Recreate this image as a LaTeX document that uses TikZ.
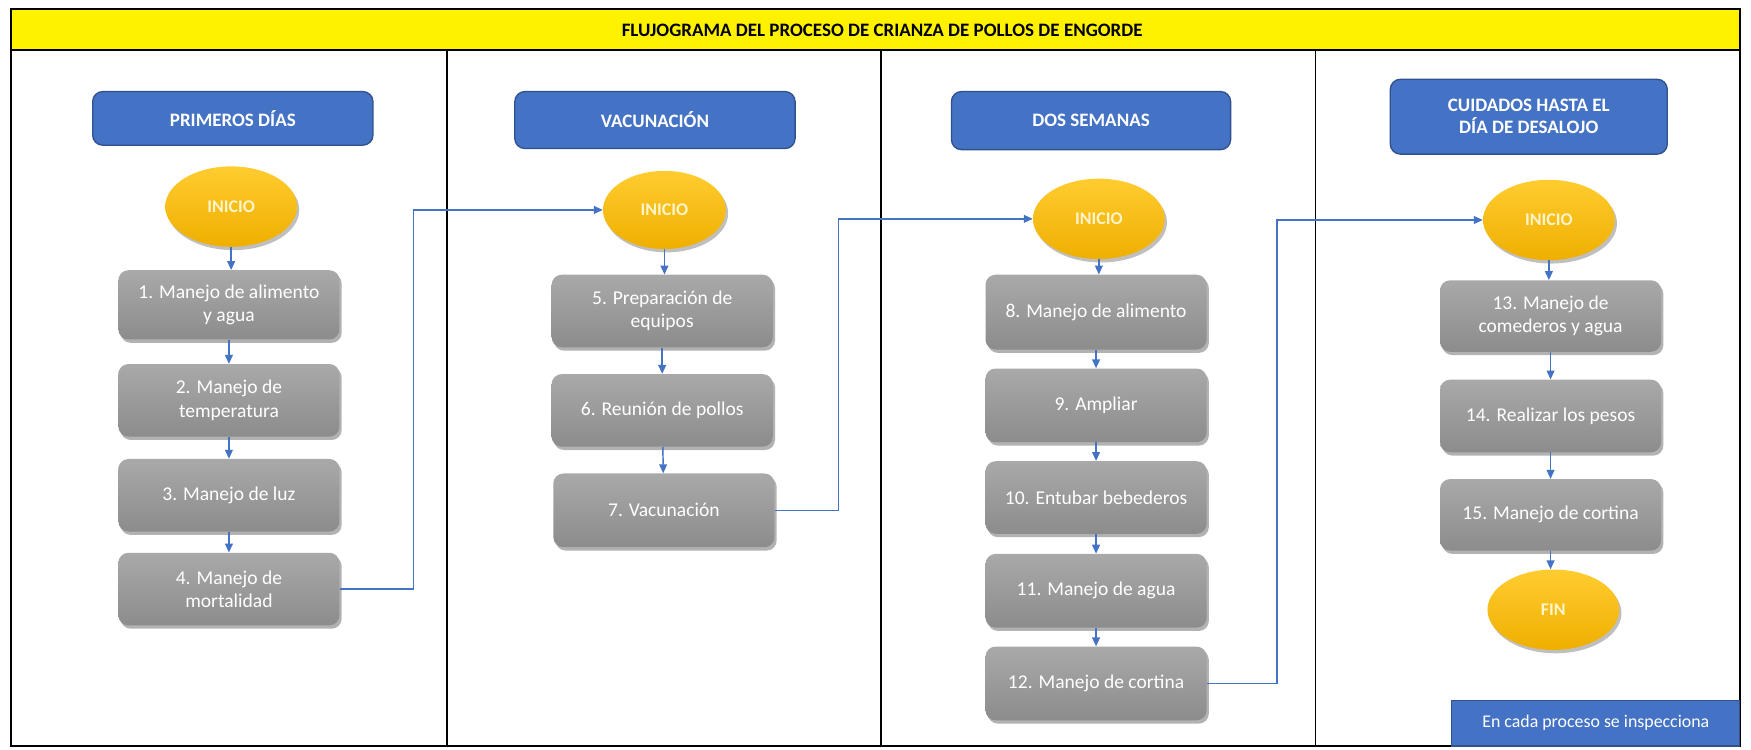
\documentclass[tikz,border=0pt]{standalone}
\usepackage{fontspec}
\setmainfont{Carlito}
\usetikzlibrary{shapes.geometric,arrows.meta,shadows}
\definecolor{hblue}{HTML}{4472C4}
\definecolor{hbord}{HTML}{2F528F}
\definecolor{goldA}{HTML}{FFCC30}
\definecolor{goldB}{HTML}{EFAF00}
\definecolor{goldT}{HTML}{FFF4CC}
\definecolor{grayA}{HTML}{A9A9A9}
\definecolor{grayB}{HTML}{8C8C8C}
\tikzset{
  hdr/.style={draw=hbord, line width=1.2pt, fill=hblue, rounded corners=9pt, text=white,
    font=\bfseries\fontsize{17}{19.5}\selectfont, align=center, inner sep=2pt},
  proc/.style={rounded corners=9pt, top color=grayA, bottom color=grayB, text=white,
    font=\fontsize{17.5}{21}\selectfont, align=center, inner sep=2pt,
    minimum width=198pt, minimum height=64pt,
    drop shadow={shadow xshift=2pt, shadow yshift=-3pt, opacity=.3, fill=black}},
  term/.style={ellipse, top color=goldA, bottom color=goldB, text=goldT,
    font=\bfseries\fontsize{16}{18}\selectfont, inner sep=1pt,
    minimum width=118pt, minimum height=72pt,
    drop shadow={shadow xshift=2pt, shadow yshift=-3pt, opacity=.25, fill=black}},
  conn/.style={draw=hblue, line width=1.3pt, -{Triangle[length=8pt,width=7pt]}},
  frame/.style={draw=black, line width=1.5pt}
}
\begin{document}
\begin{tikzpicture}[x=1pt,y=-1pt]
\useasboundingbox (0,0) rectangle (1568,671);
\fill[white] (0,0) rectangle (1568,671);
% frame and title band
\draw[frame, fill=yellow] (10,8) rectangle (1558,45);
\node[font=\bfseries\fontsize{17}{20}\selectfont] (title) at (790,27) {FLUJOGRAMA DEL PROCESO DE CRIANZA DE POLLOS DE ENGORDE};
\draw[frame] (10,45) rectangle (1558,668);
\draw[frame] (400,45) -- (400,668);
\draw[frame] (789,45) -- (789,668);
\draw[frame] (1178,45) -- (1178,668);

% Column 1
\node[hdr, minimum width=251pt, minimum height=48pt] (h1) at (208.5,106) {PRIMEROS DÍAS};
\node[term] (i1) at (207,185) {INICIO};
\node[proc, minimum height=62pt] (b1) at (205,273) {1. Manejo de alimento\\y agua};
\node[proc, minimum height=65pt] (b2) at (205,358.5) {2. Manejo de\\temperatura};
\node[proc, minimum height=65pt] (b3) at (205,443.5) {3. Manejo de luz};
\node[proc, minimum height=65pt] (b4) at (205,527.5) {4. Manejo de\\mortalidad};
\draw[conn] (i1) -- (i1 |- b1.north);
\draw[conn] (b1) -- (b2);
\draw[conn] (b2) -- (b3);
\draw[conn] (b3) -- (b4);

% Column 2
\node[hdr, minimum width=251pt, minimum height=51pt] (h2) at (586.5,107.5) {VACUNACIÓN};
\node[term, minimum width=110pt, minimum height=70pt] (i2) at (595,188) {INICIO};
\node[proc, minimum height=65pt] (b5) at (593,278.5) {5. Preparación de\\equipos};
\node[proc, minimum height=65pt] (b6) at (593,367.5) {6. Reunión de pollos};
\node[proc, minimum height=66pt] (b7) at (594.5,457) {7. Vacunación};
\draw[conn] (i2) -- (i2 |- b5.north);
\draw[conn] (b5) -- (b6);
\draw[conn] (b6) -- (b7);

% Column 3
\node[hdr, minimum width=250pt, minimum height=52pt] (h3) at (977,108) {DOS SEMANAS};
\node[term] (i3) at (984,196) {INICIO};
\node[proc, minimum height=67pt] (b8) at (981.5,279.5) {8. Manejo de alimento};
\node[proc, minimum height=66pt] (b9) at (981.5,363) {9. Ampliar};
\node[proc, minimum height=65pt] (b10) at (981.5,445.5) {10. Entubar bebederos};
\node[proc, minimum height=66pt] (b11) at (981.5,529) {11. Manejo de agua};
\node[proc, minimum height=66pt] (b12) at (981.5,612) {12. Manejo de cortina};
\draw[conn] (i3) -- (i3 |- b8.north);
\draw[conn] (b8) -- (b9);
\draw[conn] (b9) -- (b10);
\draw[conn] (b10) -- (b11);
\draw[conn] (b11) -- (b12);

% Column 4
\node[hdr, minimum width=248pt, minimum height=67pt] (h4) at (1369,104.5) {CUIDADOS HASTA EL\\DÍA DE DESALOJO};
\node[term] (i4) at (1387,197) {INICIO};
\node[proc, minimum height=64pt] (b13) at (1388.5,283) {13. Manejo de\\comederos y agua};
\node[proc, minimum height=65pt] (b14) at (1388.5,372.5) {14. Realizar los pesos};
\node[proc, minimum height=64pt] (b15) at (1388.5,461) {15. Manejo de cortina};
\node[term] (fin) at (1391,546) {FIN};
\draw[conn] (i4) -- (i4 |- b13.north);
\draw[conn] (b13) -- (b14);
\draw[conn] (b14) -- (b15);
\draw[conn] (b15) -- (b15 |- fin.north);

% note
\node[draw=hbord, line width=1pt, fill=hblue, text=white, font=\fontsize{16}{19}\selectfont,
  minimum width=258pt, minimum height=41pt, inner sep=0pt] (note) at (1429,647.5) {En cada proceso se inspecciona};

% cross-column connectors
\draw[conn] (b4.east) -- ++(66,0) |- (i2.west);
\draw[conn] (b7.east) -- ++(57,0) |- (i3.west);
\draw[conn] (b12.east) -- ++(63,0) |- (i4.west);
\end{tikzpicture}
\end{document}
